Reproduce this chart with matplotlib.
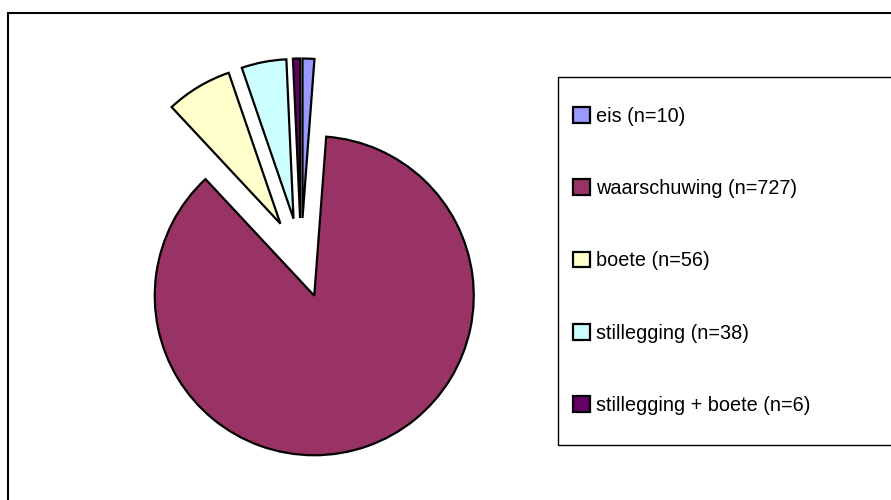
import matplotlib.pyplot as plt
from matplotlib.patches import Rectangle

plt.rcParams['font.family'] = ['Liberation Sans', 'DejaVu Sans']

labels = ['eis (n=10)', 'waarschuwing (n=727)', 'boete (n=56)',
          'stillegging (n=38)', 'stillegging + boete (n=6)']
counts = [10, 727, 56, 38, 6]
colors = ['#9999FF', '#993366', '#FFFFCC', '#CCFFFF', '#660066']

W, H = 891, 500
fig = plt.figure(figsize=(W / 100, H / 100), dpi=100)
ax = fig.add_axes([0, 0, 1, 1])

# pixel-like data coords (y up)
wedges, _ = ax.pie(counts, colors=colors, startangle=90, counterclock=False,
                   center=(301, 242), radius=159.5, explode=[40] * len(counts),
                   wedgeprops=dict(edgecolor='black', linewidth=1.6))
ax.set_xlim(0, W)
ax.set_ylim(0, H)
ax.set_aspect('auto')
ax.axis('off')

# outer chart border and legend frame
ax.add_patch(Rectangle((8, -20), W + 20, H - 13 + 20, fill=False,
                       edgecolor='black', linewidth=1.5, clip_on=False))
ax.add_patch(Rectangle((558, H - 445), W, 445 - 77, fill=False,
                       edgecolor='black', linewidth=1.0, clip_on=False))

ax.legend(wedges, labels, loc='upper left', bbox_to_anchor=(573 / W, 1 - 107 / H),
          bbox_transform=fig.transFigure, frameon=False, fontsize=14.3,
          handlelength=0.85, handleheight=0.85, handletextpad=0.3,
          labelspacing=2.68, borderpad=0, borderaxespad=0)

fig.savefig('out.png', dpi=100)
